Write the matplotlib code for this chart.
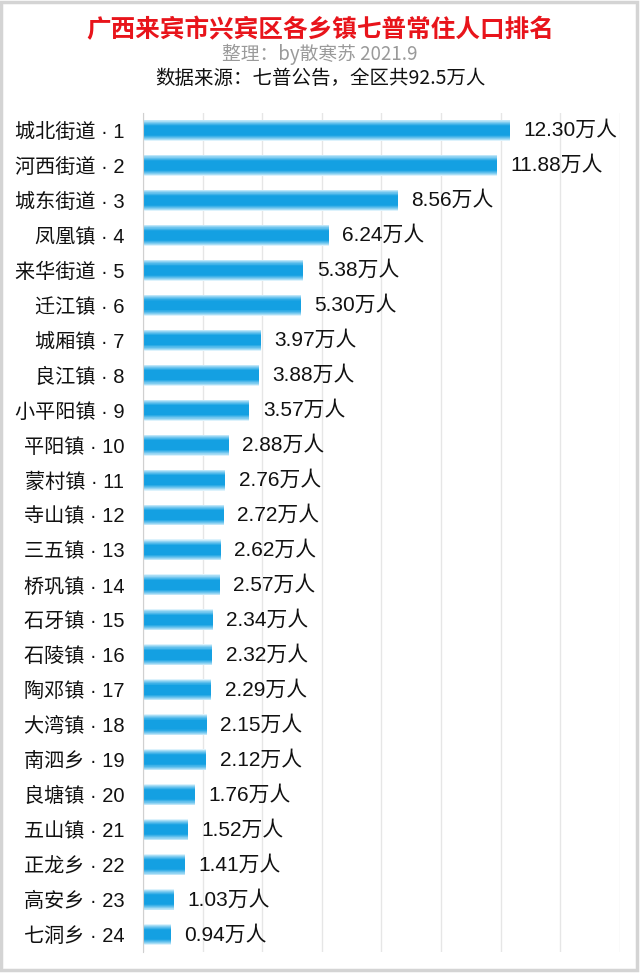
import matplotlib
matplotlib.use("Agg")
import matplotlib.pyplot as plt
from matplotlib.patches import Rectangle
import numpy as np

plt.rcParams['font.family'] = ['Noto Sans CJK SC', 'DejaVu Sans']
LAT = ['Liberation Sans', 'Noto Sans CJK SC']

towns = ["城北街道", "河西街道", "城东街道", "凤凰镇", "来华街道", "迁江镇", "城厢镇", "良江镇",
         "小平阳镇", "平阳镇", "蒙村镇", "寺山镇", "三五镇", "桥巩镇", "石牙镇", "石陵镇",
         "陶邓镇", "大湾镇", "南泗乡", "良塘镇", "五山镇", "正龙乡", "高安乡", "七洞乡"]
values = [12.30, 11.88, 8.56, 6.24, 5.38, 5.30, 3.97, 3.88, 3.57, 2.88, 2.76, 2.72,
          2.62, 2.57, 2.34, 2.32, 2.29, 2.15, 2.12, 1.76, 1.52, 1.41, 1.03, 0.94]
ranks = list(range(1, len(towns) + 1))
xticks = [0, 2, 4, 6, 8, 10, 12, 14, 16]

title = "广西来宾市兴宾区各乡镇七普常住人口排名"
sub1 = "整理：by散寒苏 2021.9"
sub2 = "数据来源：七普公告，全区共92.5万人"

fig = plt.figure(figsize=(6.40, 9.73), dpi=100)
ax = fig.add_axes([0.2234, 0.0216, 0.7453, 0.8623])

y = np.arange(len(towns))
# gradient bars: layered bars with decreasing height, lighter at edges
light = np.array([220, 242, 252]) / 255
dark = np.array([20, 160, 226]) / 255
H = 0.6
n = 16
for k in range(n):
    t = k / (n - 1)
    h = H * (1 - 0.75 * t)
    c = light + (dark - light) * min(1.0, (t * 1.4) ** 0.8)
    ax.barh(y, values, height=h, color=c, edgecolor='none', zorder=3)

for yi, v in zip(y, values):
    ax.text(v + 0.45, yi, f"{v:.2f}万人", va='center', ha='left', fontsize=15,
            color='#111111', zorder=4, family=LAT)

ax.set_yticks(y)
ax.set_yticklabels([f"{t} · {r}" for t, r in zip(towns, ranks)], fontsize=14.5,
                   color='#111111', family=LAT)
ax.set_ylim(len(towns) - 0.5, -0.5)
ax.set_xlim(0, 16)
ax.set_xticks(xticks)
ax.tick_params(axis='x', bottom=False, labelbottom=False)
ax.tick_params(axis='y', left=False, pad=10)
ax.grid(axis='x', color='#e6e6e6', lw=1, zorder=0)
for s in ['top', 'right', 'bottom']:
    ax.spines[s].set_visible(False)
ax.spines['left'].set_color('#d0d0d0')
ax.spines['left'].set_zorder(5)

fig.text(0.5, 1 - 30 / 973, title, ha='center', va='center', fontsize=17.7,
         fontweight='bold', color='#e8141b')
fig.text(0.5, 1 - 54 / 973, sub1, ha='center', va='center', fontsize=13.5, color='#9a9a9a')
fig.text(0.5, 1 - 78 / 973, sub2, ha='center', va='center', fontsize=14, color='#111111')

fig.patches.append(Rectangle((0.002, 0.003), 0.993, 0.995, transform=fig.transFigure,
                             fill=False, edgecolor='#d4d4d4', lw=2.5))

fig.savefig("out.png", dpi=100)
